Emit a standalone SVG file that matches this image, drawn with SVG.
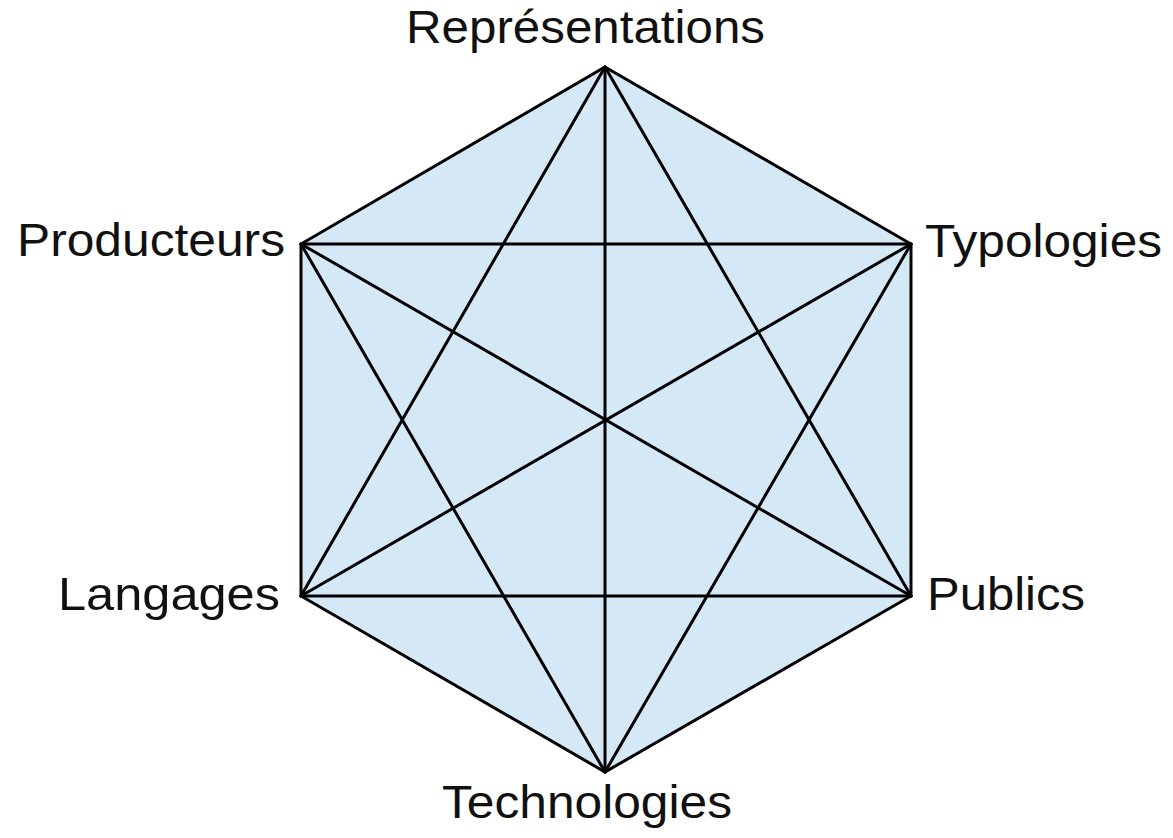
<svg xmlns="http://www.w3.org/2000/svg" width="1173" height="838" viewBox="0 0 1173 838">
<style>
.lbl{font-family:"Liberation Sans",Arial,sans-serif;font-size:46px;fill:#111;}
.edge{stroke:#000;stroke-width:3;fill:none;stroke-linecap:round;stroke-linejoin:round;}
</style>
<rect width="1173" height="838" fill="#fff"/>
<g id="hexagon">
<polygon points="605,67 911,244 911,596 605,772 301,596 301,244" fill="#d4e8f6" stroke="#000" stroke-width="3" stroke-linejoin="miter"/>
</g>
<g id="connectors" class="edge">
<line x1="605" y1="67" x2="605" y2="772"/>
<line x1="301" y1="244" x2="911" y2="596"/>
<line x1="911" y1="244" x2="301" y2="596"/>
<line x1="301" y1="244" x2="911" y2="244"/>
<line x1="301" y1="596" x2="911" y2="596"/>
<line x1="605" y1="67" x2="301" y2="596"/>
<line x1="605" y1="67" x2="911" y2="596"/>
<line x1="605" y1="772" x2="301" y2="244"/>
<line x1="605" y1="772" x2="911" y2="244"/>
</g>
<g id="n-representations"><text class="lbl" x="406" y="43" textLength="359" lengthAdjust="spacingAndGlyphs">Représentations</text></g>
<g id="n-producteurs"><text class="lbl" x="17" y="256" textLength="268" lengthAdjust="spacingAndGlyphs">Producteurs</text></g>
<g id="n-typologies"><text class="lbl" x="925" y="257" textLength="237" lengthAdjust="spacingAndGlyphs">Typologies</text></g>
<g id="n-langages"><text class="lbl" x="58" y="610" textLength="222" lengthAdjust="spacingAndGlyphs">Langages</text></g>
<g id="n-publics"><text class="lbl" x="927" y="610" textLength="158" lengthAdjust="spacingAndGlyphs">Publics</text></g>
<g id="n-technologies"><text class="lbl" x="442" y="818" textLength="290" lengthAdjust="spacingAndGlyphs">Technologies</text></g>
</svg>
